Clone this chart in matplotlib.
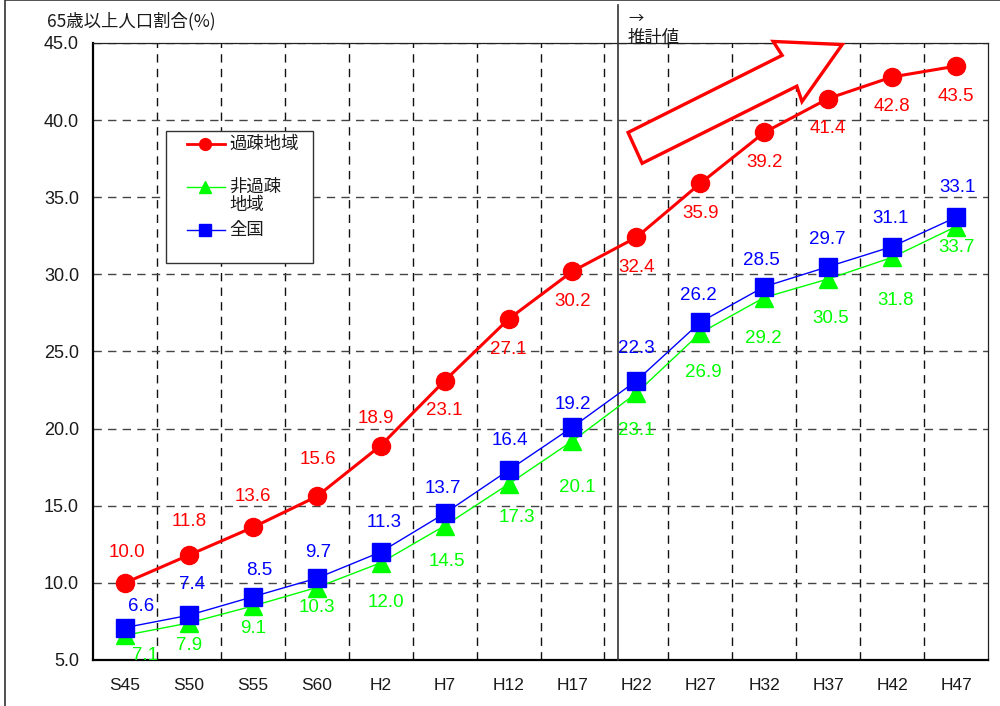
import matplotlib
matplotlib.use("Agg")
import matplotlib.pyplot as plt
from matplotlib.patches import Rectangle, Polygon
from matplotlib.lines import Line2D
import numpy as np

plt.rcParams['font.family'] = ['Liberation Sans', 'Noto Sans CJK JP', 'DejaVu Sans']
CJK = ['Noto Sans CJK JP', 'DejaVu Sans']

# ---- data -------------------------------------------------------------
periods = ["S45", "S50", "S55", "S60", "H2", "H7", "H12", "H17",
           "H22", "H27", "H32", "H37", "H42", "H47"]
kaso = [10.0, 11.8, 13.6, 15.6, 18.9, 23.1, 27.1, 30.2,
        32.4, 35.9, 39.2, 41.4, 42.8, 43.5]            # 過疎地域
hikaso = [6.6, 7.4, 8.5, 9.7, 11.3, 13.7, 16.4, 19.2,
          22.3, 26.2, 28.5, 29.7, 31.1, 33.1]          # 非過疎地域
zenkoku = [7.1, 7.9, 9.1, 10.3, 12.0, 14.5, 17.3, 20.1,
           23.1, 26.9, 29.2, 30.5, 31.8, 33.7]         # 全国
yticks = [5.0, 10.0, 15.0, 20.0, 25.0, 30.0, 35.0, 40.0, 45.0]

series_names = ["過疎地域", "非過疎地域", "全国"]
y_title = "65歳以上人口割合(%)"
forecast_text = "推計値"

# ---- layout (label offsets in pixels: dx right, dy down) --------------
red_off = [(2, -30), (0, -34), (0, -31), (1, -37), (-5, -27)] + [(0, 30)] * 9
blue_off = [(16, -21), (3, -31), (6, -26), (1, -26), (3, -30), (-2, -25),
            (1, -30), (0, -23), (0, -32), (-2, -27), (-3, -26), (-1, -27),
            (-2, -28), (1, -30)]
green_off = [(20, 20), (0, 23), (0, 22), (0, 20), (5, 40), (2, 36),
             (8, 33), (5, 47), (0, 37), (3, 40), (-1, 41), (2, 39),
             (3, 43), (1, 21)]

RED, GREEN, BLUE = "#FF0000", "#00FF00", "#0000FF"
DARK = "#1a1a1a"
FS = 13.5

W, H = 1000, 706
fig = plt.figure(figsize=(W / 100, H / 100), dpi=100)


def fpx(x, y):
    """pixel position (from top-left) -> figure fraction"""
    return x / W, 1 - y / H


ax = fig.add_axes([93 / W, 46 / H, 895 / W, 617 / H])

x = np.arange(len(periods))

# series
ax.plot(x, hikaso, color=GREEN, lw=1.0, marker="^", ms=12.5,
        mec=GREEN, mfc=GREEN, zorder=4)
ax.plot(x, zenkoku, color=BLUE, lw=1.0, marker="s", ms=12.5,
        mec=BLUE, mfc=BLUE, zorder=5)
ax.plot(x, kaso, color=RED, lw=2.2, marker="o", ms=13,
        mec=RED, mfc=RED, zorder=6)


def value_label(text, xy, off, color):
    t = ax.annotate(text, xy, xytext=(off[0], -off[1]),
                    textcoords="offset pixels", ha="center", va="center",
                    color=color, fontsize=FS, zorder=7)
    t.set_clip_on(True)
    t.set_clip_box(ax.bbox)
    return t


# value labels
for i, v in enumerate(kaso):
    value_label(f"{v:.1f}", (x[i], v), red_off[i], RED)
for i in range(len(x)):
    value_label(f"{hikaso[i]:.1f}", (x[i], zenkoku[i]), blue_off[i], BLUE)
    value_label(f"{zenkoku[i]:.1f}", (x[i], hikaso[i]), green_off[i], GREEN)

# axes
ax.set_xlim(-0.5, len(periods) - 0.5)
ax.set_ylim(5, 45)
ax.set_yticks(yticks)
ax.set_yticklabels([f"{t:.1f}" for t in yticks], fontsize=13, color=DARK)
ax.set_xticks(x)
ax.set_xticklabels(periods, fontsize=12.5, color=DARK)
ax.set_xticks(np.arange(0.5, len(periods) - 1, 1), minor=True)
ax.tick_params(axis="both", which="both", length=0)
ax.tick_params(axis="y", pad=10)
ax.tick_params(axis="x", pad=13)

dash = (0, (6, 4.5))
ax.yaxis.grid(True, which="major", ls=dash, color="#444444", lw=1.0)
ax.xaxis.grid(True, which="minor", ls=dash, color="#111111", lw=1.0)
ax.xaxis.grid(False, which="major")
ax.set_axisbelow(True)

for side in ("left", "bottom"):
    ax.spines[side].set_linewidth(1.6)
    ax.spines[side].set_color("#000000")
for side in ("top", "right"):
    ax.spines[side].set_linewidth(0.9)
    ax.spines[side].set_color("#222222")

# forecast divider
ax.plot([7.72, 7.72], [0, 1.0616], transform=ax.get_xaxis_transform(),
        color="#333333", lw=1.2, clip_on=False, zorder=3)
fig.text(*fpx(628, 18), "→", fontsize=11, color=DARK, ha="left",
         va="center", family=CJK)
fig.text(*fpx(628, 38), forecast_text, fontsize=12.5, color=DARK,
         ha="left", va="center", zorder=10, family=CJK)

# trend arrow
arrow_pts = [(7.87, 39.2), (10.28, 44.2), (10.14, 45.1), (11.22, 44.9),
             (10.59, 41.2), (10.51, 42.2), (8.09, 37.2)]
ax.add_patch(Polygon(arrow_pts, closed=True, facecolor="white",
                     edgecolor=RED, lw=2.4, joinstyle="miter",
                     clip_on=False, zorder=3))

# y title
fig.text(*fpx(47, 21), y_title, fontsize=12.5, color=DARK,
         ha="left", va="center", family=CJK)

# legend
lx0, ly0, lx1, ly1 = 166, 131, 313, 263
fig.add_artist(Rectangle(fpx(lx0, ly1), (lx1 - lx0) / W, (ly1 - ly0) / H,
                         transform=fig.transFigure, facecolor="white",
                         edgecolor="#333333", lw=1.0, zorder=8))
legend_rows = [
    (144, RED, "o", 2.0, 8.5, series_names[0]),
    (187, GREEN, "^", 1.0, 9, "非過疎"),
    (230, BLUE, "s", 1.0, 8.5, series_names[2]),
]
for ypx, c, m, lw, ms, lab in legend_rows:
    xs, ys = zip(fpx(187, ypx), fpx(225, ypx))
    fig.add_artist(Line2D(xs, ys, color=c, lw=lw, transform=fig.transFigure,
                          zorder=9))
    fig.add_artist(Line2D([fpx(205, ypx)[0]], [fpx(205, ypx)[1]], color=c,
                          marker=m, ms=ms, mec=c, mfc=c, ls="none",
                          transform=fig.transFigure, zorder=9))
    fig.text(*fpx(229, ypx), lab, fontsize=12.5, color=DARK, ha="left",
             va="center", zorder=10, family=CJK)
fig.text(*fpx(229, 205), "地域", fontsize=12.5, color=DARK, ha="left",
         va="center", zorder=10, family=CJK)

# outer frame
fig.add_artist(Rectangle(fpx(5, 720), 1.2, 720 / H, transform=fig.transFigure,
                         fill=False, edgecolor="#333333", lw=1.2, zorder=20))

fig.savefig("out.png", dpi=100)
